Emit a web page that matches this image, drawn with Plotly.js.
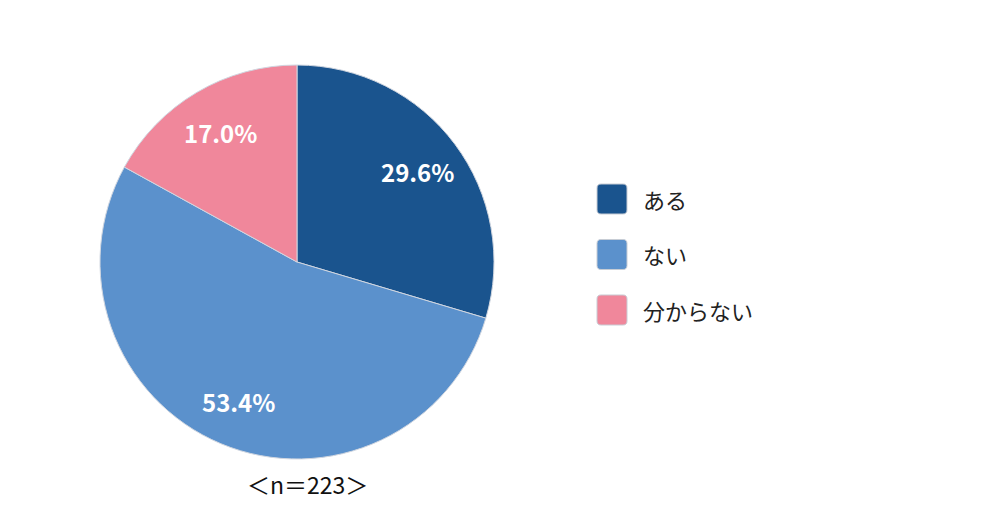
<!DOCTYPE html>
<html><head><meta charset="utf-8">
<script src="https://cdn.plot.ly/plotly-3.0.1.min.js"></script>
<style>html,body{margin:0;padding:0;background:#fff}#chart{width:1000px;height:525px}</style>
</head><body><div id="chart"></div>
<script>
const categories = ["ある", "ない", "分からない"];
const percents = [29.6, 53.4, 17.0];
const colors = ["#1A548E", "#5B91CC", "#F0879B"];
const sampleNote = "＜n＝223＞";

const FONT = '"Noto Sans CJK JP", "Noto Sans", sans-serif';

// pie geometry (pixels)
const W = 1000, H = 525, CX = 297, CY = 262, R = 197;

const trace = {
  type: "pie",
  labels: categories,
  values: percents,
  sort: false,
  direction: "clockwise",
  rotation: 0,
  marker: {colors: colors, line: {color: "#D0D6E0", width: 1}},
  textinfo: "none",
  hoverinfo: "none",
  domain: {x: [(CX - R) / W, (CX + R) / W], y: [1 - (CY + R) / H, 1 - (CY - R) / H]},
  showlegend: false
};

const shapes = [];
const annotations = [];

// percentage labels placed at slice mid-angles
const total = percents.reduce((a, b) => a + b, 0);
let acc = 0;
percents.forEach((v) => {
  const mid = (acc + v / 2) / total * 2 * Math.PI;
  acc += v;
  const rr = 0.765 * R;
  const px = CX + rr * Math.sin(mid), py = CY - rr * Math.cos(mid);
  annotations.push({xref: "paper", yref: "paper", x: px / W, y: 1 - py / H,
    xanchor: "center", yanchor: "middle", showarrow: false,
    text: v.toFixed(1) + "%",
    font: {family: FONT, size: 24, color: "#ffffff", weight: "bold"}});
});

// legend built from categories and colors
const legTop = 184, legStep = 55.5, sw = 30, legX = 597, rad = 4;
function roundRect(x0, y0, w, h, r) {
  const X = (x) => (x / W).toFixed(5), Y = (y) => (1 - y / H).toFixed(5);
  return `M${X(x0 + r)},${Y(y0)} L${X(x0 + w - r)},${Y(y0)} Q${X(x0 + w)},${Y(y0)} ${X(x0 + w)},${Y(y0 + r)} ` +
    `L${X(x0 + w)},${Y(y0 + h - r)} Q${X(x0 + w)},${Y(y0 + h)} ${X(x0 + w - r)},${Y(y0 + h)} ` +
    `L${X(x0 + r)},${Y(y0 + h)} Q${X(x0)},${Y(y0 + h)} ${X(x0)},${Y(y0 + h - r)} ` +
    `L${X(x0)},${Y(y0 + r)} Q${X(x0)},${Y(y0)} ${X(x0 + r)},${Y(y0)} Z`;
}
categories.forEach((c, i) => {
  const y0 = legTop + i * legStep;
  shapes.push({type: "path", xref: "paper", yref: "paper",
    path: roundRect(legX, y0, sw, sw, rad),
    fillcolor: colors[i], line: {color: "#C8CDD5", width: 1}});
  annotations.push({xref: "paper", yref: "paper", x: 641 / W, y: 1 - (y0 + sw / 2) / H,
    xanchor: "left", yanchor: "middle", showarrow: false, text: c,
    font: {family: FONT, size: 22, color: "#222222"}});
});
annotations.push({xref: "paper", yref: "paper", x: 307 / W, y: 1 - 484 / H,
  xanchor: "center", yanchor: "middle", showarrow: false, text: sampleNote,
  font: {family: FONT, size: 23, color: "#111111"}});

Plotly.newPlot("chart", [trace], {
  width: W, height: H,
  margin: {l: 0, r: 0, t: 0, b: 0},
  paper_bgcolor: "#ffffff",
  shapes: shapes,
  annotations: annotations
}, {displayModeBar: false, staticPlot: true});
</script></body></html>
